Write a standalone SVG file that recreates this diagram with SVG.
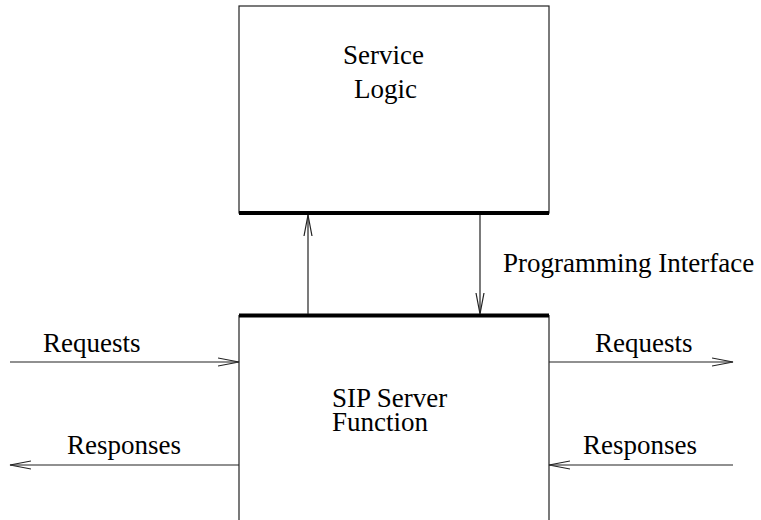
<svg xmlns="http://www.w3.org/2000/svg" width="761" height="520" viewBox="0 0 761 520">
<defs>
<marker id="arr" markerWidth="24" markerHeight="12" refX="21" refY="5" orient="auto" markerUnits="userSpaceOnUse">
<path d="M0,1 L21,5 L0,9" fill="none" stroke="#222" stroke-width="1.2"/>
</marker>
</defs>
<rect width="761" height="520" fill="#fff"/>
<g font-family="Liberation Serif" font-size="27" fill="#000">
<g id="service-logic">
<rect x="239" y="6" width="310" height="207" fill="#fff" stroke="#222" stroke-width="1.2"/>
<line x1="239" y1="213" x2="549" y2="213" stroke="#000" stroke-width="4"/>
<text x="343" y="64">Service</text>
<text x="354" y="98">Logic</text>
</g>
<g id="sip-server">
<path d="M239,522 V315.5 H549 V522" fill="#fff" stroke="#222" stroke-width="1.2"/>
<line x1="239" y1="315.5" x2="549" y2="315.5" stroke="#000" stroke-width="4"/>
<text x="332" y="407">SIP Server</text>
<text x="332" y="431">Function</text>
</g>
<g id="connectors" fill="none" stroke="#222" stroke-width="1.2" marker-end="url(#arr)">
<line x1="308" y1="314" x2="308" y2="215"/>
<line x1="480" y1="215" x2="480" y2="314"/>
<line x1="10" y1="362" x2="239" y2="362"/>
<line x1="239" y1="465" x2="10" y2="465"/>
<line x1="549" y1="362" x2="733" y2="362"/>
<line x1="733" y1="465" x2="549" y2="465"/>
</g>
<g id="labels">
<text x="503" y="272">Programming Interface</text>
<text x="43" y="352">Requests</text>
<text x="67" y="454">Responses</text>
<text x="595" y="352">Requests</text>
<text x="583" y="454">Responses</text>
</g>
</g>
</svg>
